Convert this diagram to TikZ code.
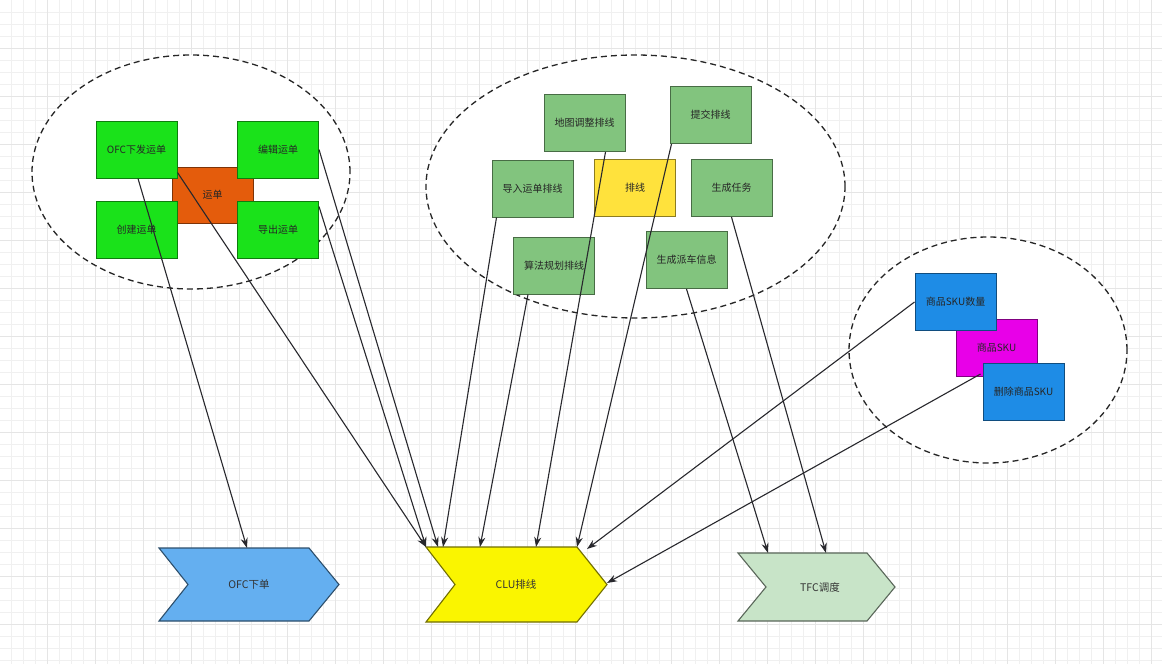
\documentclass[tikz,border=0pt]{standalone}
\usepackage{fontspec}
\newfontfamily\cjk{Noto Sans CJK SC}
\usetikzlibrary{arrows.meta,calc}
\definecolor{gbright}{RGB}{26,226,26}
\definecolor{gorange}{RGB}{228,92,12}
\definecolor{gmid}{RGB}{130,196,126}
\definecolor{ybox}{RGB}{255,226,60}
\definecolor{bbox}{RGB}{30,140,230}
\definecolor{mbox}{RGB}{232,0,232}
\definecolor{cofc}{RGB}{100,175,240}
\definecolor{cclu}{RGB}{250,245,0}
\definecolor{ctfc}{RGB}{200,228,200}
\definecolor{linec}{RGB}{40,40,45}
\tikzset{
  gridminor/.style={draw=black!6,line width=0.5pt},
  gridmajor/.style={draw=black!10,line width=0.6pt},
  group/.style={draw=black!85,fill=white,line width=1.3pt,dash pattern=on 6pt off 4pt},
  box/.style={draw=#1!55!black,fill=#1,minimum width=81pt,minimum height=57pt,inner sep=1pt,
    line width=1pt,font=\cjk\fontsize{10pt}{12pt}\selectfont,text=black!85},
  chev/.style={draw=#1!45!black,fill=#1,line width=1.1pt},
  chevtext/.style={font=\cjk\fontsize{10.5pt}{12pt}\selectfont,text=black!80},
  conn/.style={draw=linec,line width=1.1pt,-{Stealth[length=10pt,width=7pt]}}
}
\begin{document}
\begin{tikzpicture}[x=1pt,y=-1pt]
\useasboundingbox (0,0) rectangle (1162,664);
\fill[white] (0,0) rectangle (1162,664);
% grid
\foreach \x in {11,23,...,1162} \draw[gridminor] (\x,0) -- (\x,664);
\foreach \y in {12,24,...,664} \draw[gridminor] (0,\y) -- (1162,\y);
\foreach \x in {47,95,...,1162} \draw[gridmajor] (\x,0) -- (\x,664);
\foreach \y in {48,96,...,664} \draw[gridmajor] (0,\y) -- (1162,\y);
% groups
\draw[group] (191,172) ellipse [x radius=159pt, y radius=117pt];
\draw[group] (635.5,186.5) ellipse [x radius=209.5pt, y radius=131.5pt];
\draw[group] (988,350) ellipse [x radius=139pt, y radius=113pt];
% left group
\node[box=gorange,minimum height=56pt] (wave) at (212.5,195) {运单};
\node[box=gbright] (ofcx) at (136.5,149.5) {OFC下发运单};
\node[box=gbright] (edit) at (278,149.5) {编辑运单};
\node[box=gbright] (create) at (136.5,229.5) {创建运单};
\node[box=gbright] (export) at (278,229.5) {导出运单};
% middle group
\node[box=gmid] (map) at (584.5,123) {地图调整排线};
\node[box=gmid] (submit) at (710.5,115) {提交排线};
\node[box=gmid] (import) at (532.5,188.5) {导入运单排线};
\node[box=ybox] (route) at (635,188) {排线};
\node[box=gmid] (task) at (731.5,188) {生成任务};
\node[box=gmid] (algo) at (554,265.5) {算法规划排线};
\node[box=gmid] (dispatch) at (686.5,260) {生成派车信息};
% right group
\node[box=mbox] (sku) at (996.5,348) {商品SKU};
\node[box=bbox] (skuqty) at (955.5,302) {商品SKU数量};
\node[box=bbox] (del) at (1023.5,392) {删除商品SKU};
% chevrons
\draw[chev=cofc] (159,548) -- (309,548) -- (339,584.5) -- (309,621) -- (159,621) -- (188,584.5) -- cycle;
\draw[chev=cclu] (426,547) -- (577,547) -- (607,584.5) -- (577,622) -- (426,622) -- (455,584.5) -- cycle;
\draw[chev=ctfc] (738,553) -- (867,553) -- (895,587) -- (867,621) -- (738,621) -- (766,587) -- cycle;
\node[chevtext] (ofc) at (249,585) {OFC下单};
\node[chevtext] (clu) at (516,584) {CLU排线};
\node[chevtext] (tfc) at (820,587) {TFC调度};
% connector end points
\coordinate (ofc-in) at (247,548);
\coordinate (clu-in1) at (426,547);
\coordinate (clu-in2) at (438,547);
\coordinate (clu-in3) at (443,547);
\coordinate (clu-in4) at (480,547);
\coordinate (clu-in5) at (536,547);
\coordinate (clu-in6) at (577,547);
\coordinate (clu-in7) at (587,549);
\coordinate (clu-in8) at (607,583);
\coordinate (tfc-in1) at (768,553);
\coordinate (tfc-in2) at (826,553);
% connectors
\draw[conn] ($(ofcx.south)+(1.5,0)$) -- (ofc-in);
\draw[conn] ($(ofcx.south east)+(0,-6)$) -- (clu-in1);
\draw[conn] ($(export.north east)+(0,6)$) -- (clu-in1);
\draw[conn] (edit.east) -- (clu-in2);
\draw[conn] ($(import.south west)+(5,0)$) -- (clu-in3);
\draw[conn] ($(algo.south west)+(15,0)$) -- (clu-in4);
\draw[conn] ($(map.south)+(21,0)$) -- (clu-in5);
\draw[conn] ($(submit.south west)+(2,0)$) -- (clu-in6);
\draw[conn] (skuqty.west) -- (clu-in7);
\draw[conn] ($(del.north west)+(-2,11)$) -- (clu-in8);
\draw[conn] (dispatch.south) -- (tfc-in1);
\draw[conn] (task.south) -- (tfc-in2);
\end{tikzpicture}
\end{document}
